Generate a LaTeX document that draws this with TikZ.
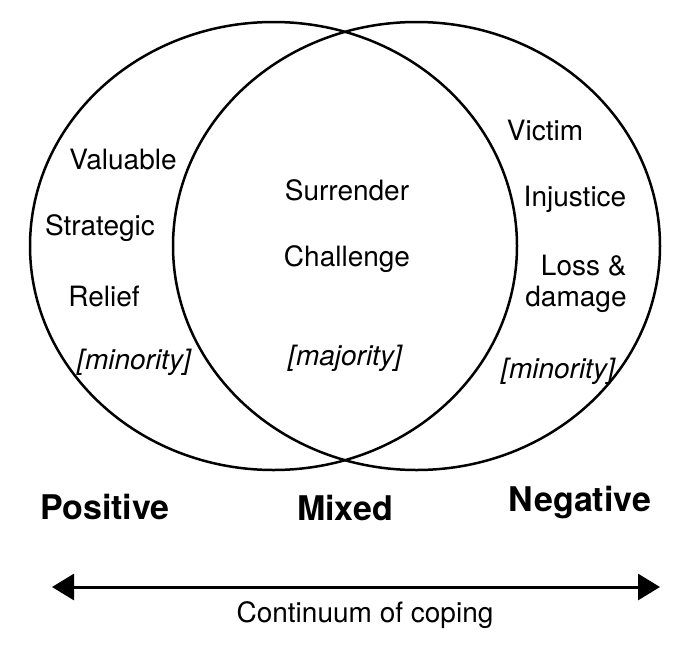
\documentclass[tikz,border=0pt]{standalone}
\usepackage{fontspec}
\setmainfont{TeX Gyre Heros}
\usetikzlibrary{positioning,arrows.meta}

\begin{document}
\begin{tikzpicture}[x=0.5pt,y=-0.5pt,>={Triangle[length=11pt,width=13pt]},
  word/.style={font=\fontsize{14}{15.5}\selectfont},
  share/.style={font=\fontsize{14}{15.5}\selectfont\itshape},
  pole/.style={font=\fontsize{17}{20}\selectfont\bfseries}]
\useasboundingbox (0,0) rectangle (685,653);
\draw[line width=1.25pt] (273.5,246) ellipse [x radius=121.75pt, y radius=112pt];
\draw[line width=1.25pt] (416.5,246) ellipse [x radius=121.75pt, y radius=112pt];
% positive side
\node[word] (valuable) at (123,160) {Valuable};
\node[word] (strategic) at (100,228) {Strategic};
\node[word] (relief) at (104,296) {Relief};
\node[share] (minl) at (134,362) {[minority]};
% overlap
\node[word] (surrender) at (347,190) {Surrender};
\node[word] (challenge) at (347,259) {Challenge};
\node[share] (major) at (345,358) {[majority]};
% negative side
\node[word] (victim) at (545,131) {Victim};
\node[word] (injustice) at (575,199) {Injustice};
\node[word,align=right] (loss) at (576,284) {Loss \&\\damage};
\node[share] (minr) at (558,371) {[minority]};
\node[pole] (pos) at (105,507) {Positive};
\node[pole] (mix) at (345,508) {Mixed};
\node[pole] (neg) at (580,503) {Negative};
\coordinate (cl) at (52,587);
\coordinate (cr) at (660,587);
\draw[<->,line width=1.5pt] (cl) -- (cr);
\node[word] (cont) at (365,615) {Continuum of coping};
\end{tikzpicture}
\end{document}
